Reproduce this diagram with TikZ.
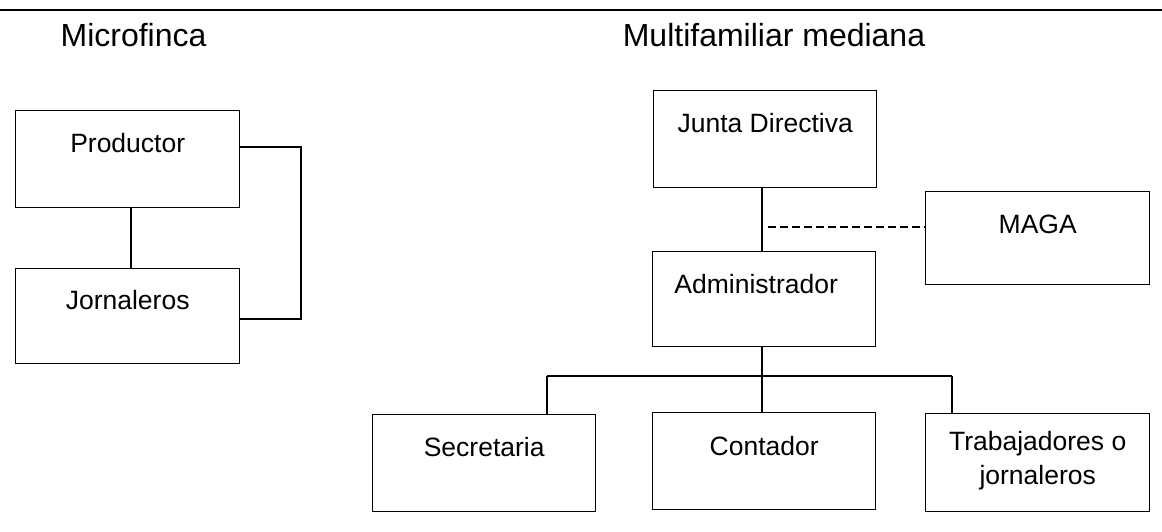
\documentclass[tikz,border=0pt]{standalone}
\usepackage{fontspec}
\setmainfont{Liberation Sans}
\begin{document}
\begin{tikzpicture}[x=1pt,y=-1pt,
  box/.style={draw, line width=1.4pt, rectangle, anchor=north west, inner sep=0pt},
  lbl/.style={font=\fontsize{26.5}{34}\selectfont, inner sep=0pt, anchor=base, align=center, yshift=-42pt},
  ttl/.style={font=\fontsize{32}{38}\selectfont, inner sep=0pt, anchor=base},
  conn/.style={line width=1.4pt},
  dconn/.style={line width=1.8pt, dash pattern=on 8pt off 4pt}]
\useasboundingbox (0,0) rectangle (1162,531);
\draw[line width=1.5pt] (0,10) -- (1162,10);

\node[ttl] (t1) at (133.5,46) {Microfinca};
\node[ttl] (t2) at (774,46) {Multifamiliar mediana};

\node[box, minimum width=224pt, minimum height=97pt, label={[lbl]north:Productor}] (prod) at (15,110) {};
\node[box, minimum width=224pt, minimum height=95pt, label={[lbl, yshift=1pt]north:Jornaleros}] (jorn) at (15,268) {};
\node[box, minimum width=223pt, minimum height=97pt, label={[lbl]north:Junta Directiva}] (junta) at (653,90) {};
\node[box, minimum width=223pt, minimum height=95pt, label={[lbl, xshift=-8pt]north:Administrador}] (admin) at (652,251) {};
\node[box, minimum width=224pt, minimum height=93pt, label={[lbl]north:MAGA}] (maga) at (925,191) {};
\node[box, minimum width=223pt, minimum height=97pt, label={[lbl]north:Secretaria}] (sec) at (372,414) {};
\node[box, minimum width=223pt, minimum height=97pt, label={[lbl, yshift=-1pt]north:Contador}] (cont) at (652,412) {};
\node[box, minimum width=224pt, minimum height=98pt, label={[lbl, yshift=-29pt]north:Trabajadores o\\jornaleros}] (trab) at (925,413) {};

% Microfinca connectors
\coordinate (pj) at (131,0);
\coordinate (pj1) at (301,147);
\coordinate (pj2) at (301,319);
\draw[conn] (prod.south -| pj) -- (jorn.north -| pj);
\draw[conn] (prod.east |- pj1) -- (pj1) -- (pj2) -- (jorn.east |- pj2);

% Multifamiliar connectors
\coordinate (spine) at (762,376);
\coordinate (b1) at (547,376);
\coordinate (b3) at (952,376);
\coordinate (ds) at (768,227);
\draw[conn] (junta.south -| spine) -- (admin.north -| spine);
\draw[dconn] (ds) -- (maga.west |- ds);
\draw[conn] (admin.south -| spine) -- (spine);
\draw[conn] (b1) -- (b3);
\draw[conn] (b1) -- (sec.north -| b1);
\draw[conn] (spine) -- (cont.north -| spine);
\draw[conn] (b3) -- (trab.north -| b3);
\end{tikzpicture}
\end{document}
